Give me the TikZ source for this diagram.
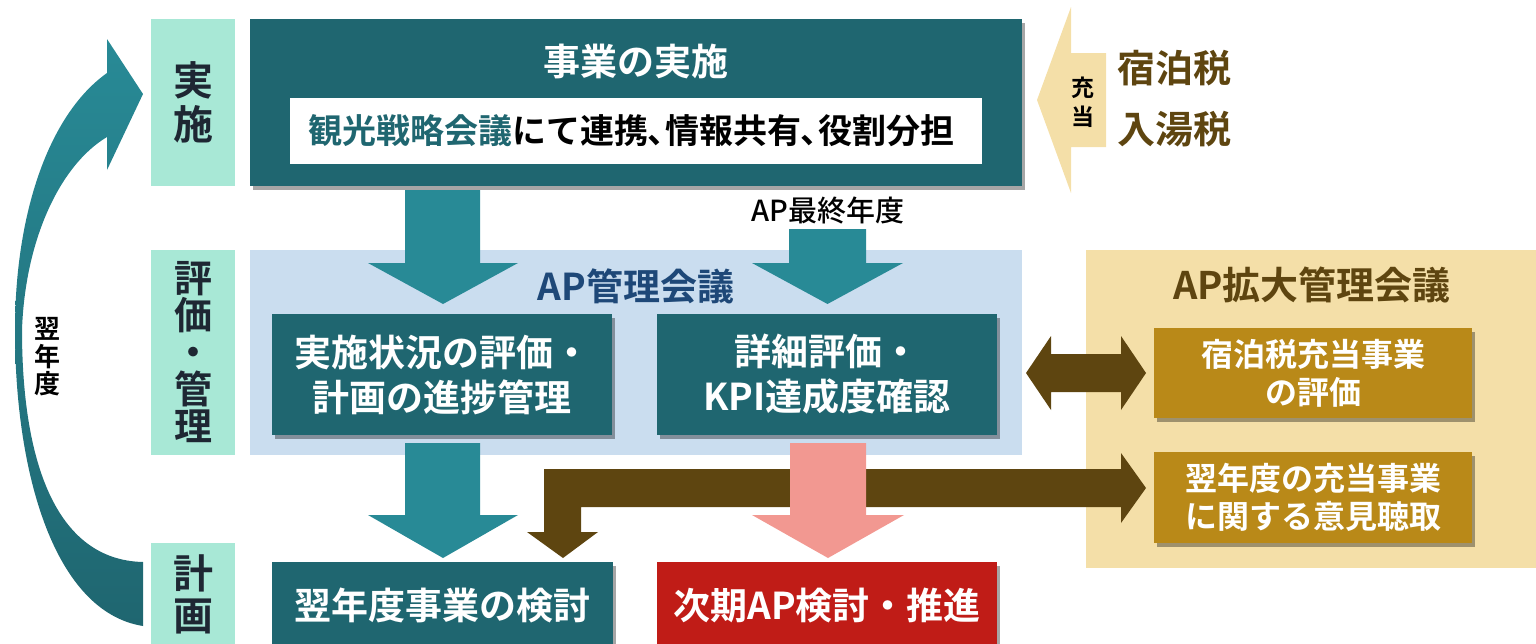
\documentclass[tikz,border=0pt]{standalone}
\usepackage{fontspec}
\IfFontExistsTF{Noto Sans CJK JP Medium}{\setmainfont{Noto Sans CJK JP Medium}[BoldFont={Noto Sans CJK JP Bold}]}{\setmainfont{Noto Sans CJK JP}}
\usetikzlibrary{shadows}
\definecolor{dteal}{RGB}{31,102,112}
\definecolor{ateal}{RGB}{40,138,150}
\definecolor{mint}{RGB}{168,232,214}
\definecolor{lblue}{RGB}{202,221,239}
\definecolor{beige}{RGB}{244,223,168}
\definecolor{gold}{RGB}{185,137,24}
\definecolor{brown}{RGB}{94,69,16}
\definecolor{pink}{RGB}{242,152,145}
\definecolor{dred}{RGB}{192,28,23}
\definecolor{apblue}{RGB}{30,72,120}
\definecolor{labtxt}{RGB}{30,39,51}
\newcommand\pcomma{{\addfontfeature{RawFeature=+palt}、}}
\tikzset{
  plain/.style={rectangle, inner sep=0pt, outer sep=0pt},
  mintbox/.style={plain, fill=mint, minimum width=84pt, text=labtxt, align=center, font=\bfseries\fontsize{40pt}{44pt}\selectfont},
  shad/.style={drop shadow={shadow xshift=3pt, shadow yshift=-4pt, opacity=0.35, fill=black}},
  tealbox/.style={plain, fill=dteal, shad, text=white, align=center, minimum width=340pt, font=\bfseries\fontsize{37pt}{45pt}\selectfont},
  goldbox/.style={plain, fill=gold, shad, text=white, align=center, minimum width=318pt, font=\bfseries\fontsize{32pt}{38pt}\selectfont},
}
\begin{document}
\begin{tikzpicture}[x=1pt,y=-1pt]
\useasboundingbox (0,0) rectangle (1536,643);
% ---- left labels
\node[mintbox, minimum height=167pt] (lab1) at (193,102.5) {実\\施};
\node[mintbox, minimum height=205pt, font=\bfseries\fontsize{38pt}{37pt}\selectfont] (lab2) at (193,352.5) {評\\価\\・\\管\\理};
\node[mintbox, minimum height=102pt, font=\bfseries\fontsize{40pt}{42pt}\selectfont] (lab3) at (193,594) {計\\画};
% ---- curved arrow
\shade[top color=ateal, bottom color=dteal]
  (143,626) .. controls (55,612) and (15,475) .. (15,330)
  .. controls (15,215) and (48,115) .. (107,73)
  -- (107,39) -- (143,94) -- (107,170) -- (107,137)
  .. controls (60,165) and (25,240) .. (22,330)
  .. controls (22,460) and (55,560) .. (143,562) -- cycle;
\node[font=\bfseries\fontsize{26pt}{27.5pt}\selectfont, align=center] (yokunendo) at (47,357) {翌\\年\\度};
% ---- backgrounds
\node[plain, fill=lblue, minimum width=772pt, minimum height=205pt] (apbg) at (636,352.5) {};
\node[plain, fill=beige, minimum width=450pt, minimum height=318pt] (exbg) at (1311,409) {};
% ---- top box
\node[plain, fill=dteal, shad, minimum width=772pt, minimum height=167pt] (top) at (636,102) {};
\node[font=\bfseries\fontsize{37pt}{40pt}\selectfont, text=white] (toptitle) at (636,61) {事業の実施};
\node[plain, fill=white, minimum width=692pt, minimum height=66pt] (inner) at (636,131) {};
\node[font=\bfseries\fontsize{34pt}{36pt}\selectfont] (innertext) at (631,131) {\textcolor{dteal}{観光戦略会議}にて連携\pcomma 情報共有\pcomma 役割分担};
% ---- 充当 arrow
\fill[beige] (1037,100) -- (1071,7) -- (1071,53) -- (1106,53) -- (1106,147) -- (1071,147) -- (1071,193) -- cycle;
\node[font=\bfseries\fontsize{23pt}{29pt}\selectfont, align=center] (juto) at (1083,102) {充\\当};
\node[font=\bfseries\fontsize{38pt}{61pt}\selectfont, text=brown, align=left] (tax) at (1174,98.5) {宿泊税\\入湯税};
% ---- down arrows from top
\fill[ateal] (405,190) -- (480,190) -- (480,263) -- (518,263) -- (443,304) -- (368,263) -- (405,263) -- cycle;
\node[font=\fontsize{29pt}{32pt}\selectfont] (apfinal) at (828,211) {AP最終年度};
\fill[ateal] (789,229) -- (866,229) -- (866,263) -- (903,263) -- (827.5,304) -- (752,263) -- (789,263) -- cycle;
% ---- AP management
\node[font=\bfseries\fontsize{37pt}{40pt}\selectfont, text=apblue] (aptitle) at (636,286) {AP管理会議};
\node[tealbox, minimum height=121pt] (boxA) at (442,374.5) {実施状況の評価・\\計画の進捗管理};
\node[tealbox, minimum height=121pt] (boxB) at (827,374.5) {詳細評価・\\KPI達成度確認};
% ---- extended management
\node[font=\bfseries\fontsize{38pt}{42pt}\selectfont, text=brown] (extitle) at (1312,285) {AP拡大管理会議};
\node[goldbox, minimum height=90pt] (boxE) at (1313,373) {宿泊税充当事業\\の評価};
\node[goldbox, minimum height=91pt] (boxF) at (1313,497.5) {翌年度の充当事業\\に関する意見聴取};
% ---- double arrow
\fill[brown] (1026,373) -- (1051,336) -- (1051,354) -- (1121,354) -- (1121,336) -- (1146,373) -- (1121,410) -- (1121,392) -- (1051,392) -- (1051,410) -- cycle;
% ---- lower arrows
\fill[ateal] (405,443) -- (480,443) -- (480,515) -- (518,515) -- (443,558) -- (368,515) -- (405,515) -- cycle;
\fill[brown] (1121,469) -- (544,469) -- (544,532) -- (527,532) -- (563,558) -- (598,532) -- (581,532) -- (581,507) -- (1121,507) -- (1121,523) -- (1146,488) -- (1121,453) -- cycle;
\fill[pink] (790,443) -- (866,443) -- (866,515) -- (904,515) -- (828,558) -- (752,515) -- (790,515) -- cycle;
% ---- bottom boxes
\node[tealbox, minimum width=341pt, minimum height=86pt] (boxC) at (442.5,605) {翌年度事業の検討};
\node[tealbox, fill=dred, minimum height=86pt] (boxD) at (827,605) {次期AP検討・推進};
\end{tikzpicture}
\end{document}
